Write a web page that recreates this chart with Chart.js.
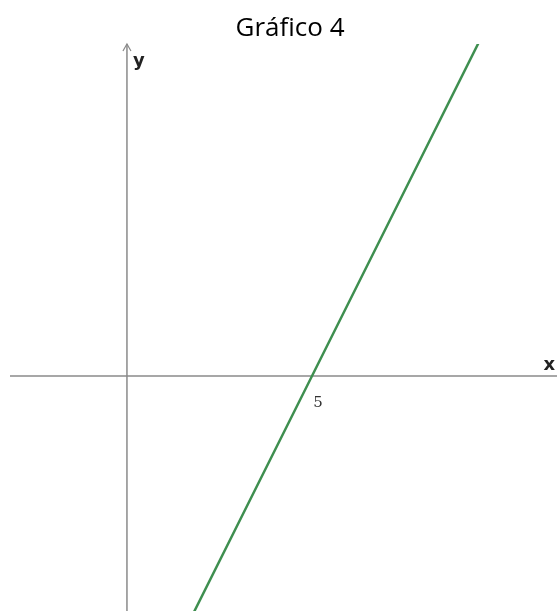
<!DOCTYPE html>
<html>
<head>
<meta charset="utf-8">
<script src="https://cdn.jsdelivr.net/npm/chart.js@4"></script>
<style>
  html, body { margin: 0; padding: 0; background: #fff; }
  canvas { display: block; }
</style>
</head>
<body>
<canvas id="grafico" width="557" height="611"></canvas>
<script>
const chartTitle = 'Gráfico 4'
const lineX = [1.8, 5, 9.5]
const lineY = [-6.4, 0, 9]
const xRange = [-3.16, 11.62]
const yRange = [-6.35, 8.97]
const tickValues = [5]
const tickLabels = ['5']
const axisNames = ['x', 'y']

const points = lineX.map(function(x, i) {
    return { x: x, y: lineY[i] }
})

// axes through the origin, arrow on y, labels
const axesPlugin = {
    id: 'axes',
    beforeDatasetsDraw(chart) {
        const c = chart.ctx
        const xs = chart.scales.x
        const ys = chart.scales.y
        const area = chart.chartArea
        const x0 = xs.getPixelForValue(0)
        const y0 = ys.getPixelForValue(0)
        c.save()
        c.strokeStyle = '#8a8a8a'
        c.lineWidth = 1.5
        c.beginPath()
        c.moveTo(area.left, y0)
        c.lineTo(area.right, y0)
        c.moveTo(x0, area.top)
        c.lineTo(x0, area.bottom)
        c.stroke()
        c.lineWidth = 1.2
        c.beginPath()
        c.moveTo(x0 - 4, area.top + 7)
        c.lineTo(x0, area.top)
        c.lineTo(x0 + 4, area.top + 7)
        c.stroke()
        c.restore()
    },
    afterDraw(chart) {
        const c = chart.ctx
        const xs = chart.scales.x
        const ys = chart.scales.y
        const area = chart.chartArea
        const x0 = xs.getPixelForValue(0)
        const y0 = ys.getPixelForValue(0)
        c.save()
        c.fillStyle = '#222'
        c.font = 'bold 18px "DejaVu Sans"'
        c.textAlign = 'right'
        c.textBaseline = 'alphabetic'
        c.fillText(axisNames[0], area.right - 2, y0 - 6)
        c.textAlign = 'left'
        c.fillText(axisNames[1], x0 + 6, area.top + 22)
        c.font = '15px "DejaVu Serif"'
        c.fillStyle = '#333'
        c.textAlign = 'center'
        tickValues.forEach(function(v, i) {
            c.fillText(tickLabels[i], xs.getPixelForValue(v) + 6, y0 + 31)
        })
        c.font = '26px "Open Sans"'
        c.fillStyle = '#000'
        c.textAlign = 'center'
        c.fillText(chartTitle, 290, 36)
        c.restore()
    }
}

const canvas = document.getElementById('grafico')
let chart = new Chart(canvas, {
    type: 'scatter',
    data: {
        datasets: [{
            data: points,
            showLine: true,
            borderColor: '#3f8f50',
            borderWidth: 2.5,
            pointRadius: 0,
            fill: false
        }]
    },
    options: {
        responsive: false,
        animation: false,
        layout: {
            padding: { top: 44, left: 10, right: 0, bottom: 0 }
        },
        scales: {
            x: { type: 'linear', min: xRange[0], max: xRange[1], display: false },
            y: { type: 'linear', min: yRange[0], max: yRange[1], display: false }
        },
        plugins: {
            legend: { display: false },
            tooltip: { enabled: false },
            title: { display: false }
        }
    },
    plugins: [axesPlugin]
})
</script>
</body>
</html>
